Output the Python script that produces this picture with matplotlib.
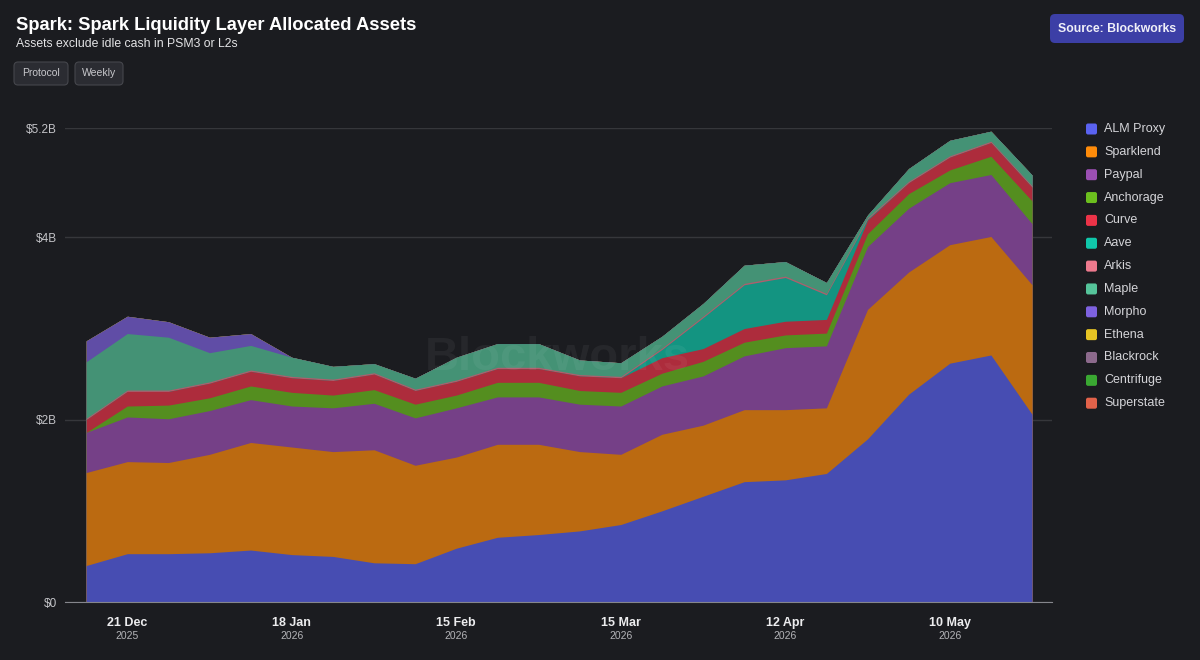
import numpy as np
import pandas as pd
import matplotlib
matplotlib.use("Agg")
import matplotlib.pyplot as plt
import matplotlib.transforms as mtransforms
from matplotlib.patches import FancyBboxPatch
from matplotlib.colors import to_rgb

# weekly data, values in $B
dates = pd.date_range("2025-12-14", periods=24, freq="7D")

alm_proxy = [0.40, 0.53, 0.53, 0.54, 0.57, 0.52, 0.50, 0.43, 0.42, 0.59, 0.71, 0.74,
             0.78, 0.85, 1.00, 1.16, 1.32, 1.34, 1.41, 1.79, 2.28, 2.62, 2.71, 2.06]
sparklend = [1.02, 1.01, 1.00, 1.08, 1.18, 1.18, 1.15, 1.24, 1.08, 1.00, 1.02, 0.99,
             0.87, 0.77, 0.84, 0.78, 0.79, 0.77, 0.72, 1.42, 1.34, 1.30, 1.30, 1.42]
paypal = [0.44, 0.49, 0.48, 0.48, 0.47, 0.45, 0.48, 0.51, 0.52, 0.54, 0.52, 0.52,
          0.52, 0.53, 0.53, 0.54, 0.59, 0.68, 0.68, 0.69, 0.70, 0.68, 0.68, 0.67]
anchorage = [0.00, 0.12, 0.15, 0.14, 0.15, 0.15, 0.14, 0.15, 0.15, 0.14, 0.16, 0.16,
             0.15, 0.15, 0.14, 0.16, 0.15, 0.14, 0.14, 0.14, 0.16, 0.14, 0.20, 0.25]
curve = [0.14, 0.16, 0.15, 0.16, 0.16, 0.16, 0.16, 0.17, 0.15, 0.15, 0.15, 0.15,
         0.16, 0.16, 0.17, 0.14, 0.15, 0.15, 0.15, 0.15, 0.12, 0.14, 0.15, 0.15]
aave = [0.00, 0.00, 0.00, 0.00, 0.00, 0.00, 0.00, 0.00, 0.00, 0.00, 0.00, 0.00,
        0.00, 0.00, 0.09, 0.34, 0.48, 0.48, 0.27, 0.01, 0.00, 0.00, 0.00, 0.00]
arkis = [0.015] * 24
maple = [0.62, 0.62, 0.58, 0.32, 0.27, 0.21, 0.14, 0.10, 0.12, 0.25, 0.26, 0.26,
         0.16, 0.15, 0.13, 0.14, 0.20, 0.16, 0.12, 0.03, 0.14, 0.17, 0.11, 0.12]
morpho = [0.23, 0.19, 0.17, 0.17, 0.13, 0.00, 0.00, 0.00, 0.00, 0.00, 0.00, 0.00,
          0.00, 0.00, 0.00, 0.00, 0.00, 0.00, 0.00, 0.00, 0.00, 0.00, 0.00, 0.00]
ethena = [0.0] * 24
blackrock = [0.0] * 24
centrifuge = [0.0] * 24
superstate = [0.0] * 24

names = ["ALM Proxy", "Sparklend", "Paypal", "Anchorage", "Curve", "Aave", "Arkis",
         "Maple", "Morpho", "Ethena", "Blackrock", "Centrifuge", "Superstate"]
series = [alm_proxy, sparklend, paypal, anchorage, curve, aave, arkis,
          maple, morpho, ethena, blackrock, centrifuge, superstate]
colors = ["#5a62f0", "#ff8c0a", "#9b4fb3", "#6cbf1e", "#ec3348", "#10c7aa", "#ee7a8e",
          "#55c49a", "#7e62e0", "#e6c424", "#8c6a8c", "#3aa832", "#e2624a"]

BG = "#1b1c20"


def blend(c, a=0.70):
    return tuple(a * np.array(to_rgb(c)) + (1 - a) * np.array(to_rgb(BG)))


plt.rcParams["font.family"] = ["Liberation Sans", "DejaVu Sans"]
fig = plt.figure(figsize=(12, 6.6), dpi=100, facecolor=BG)
ax = fig.add_axes([65 / 1200, 58 / 660, 987 / 1200, 474 / 660])
ax.set_facecolor(BG)

# draw cumulative layers from top down so no seams show between them
cum = np.cumsum(np.array(series, dtype=float), axis=0)
for i in range(len(series) - 1, -1, -1):
    ax.fill_between(dates, 0, cum[i], color=blend(colors[i]), linewidth=0, zorder=2)

ax.set_ylim(0, 5.2)
ax.set_xlim(dates[0] - pd.Timedelta(days=3.6), dates[-1] + pd.Timedelta(days=3.4))
ax.set_yticks([0, 2, 4, 5.2])
ax.set_yticklabels(["$0", "$2B", "$4B", "$5.2B"])
ax.yaxis.grid(True, color="white", alpha=0.12, lw=1, zorder=3)
ax.tick_params(axis="y", length=0, pad=6, labelsize=8.5, labelcolor="#c4c4c8")
for s in ["top", "right", "left"]:
    ax.spines[s].set_visible(False)
ax.spines["bottom"].set_color("#85868c")
ax.spines["bottom"].set_zorder(4)

tick_dates = pd.to_datetime(["2025-12-21", "2026-01-18", "2026-02-15",
                             "2026-03-15", "2026-04-12", "2026-05-10"])
ax.set_xticks(tick_dates)
ax.set_xticklabels([d.strftime("%-d %b") for d in tick_dates], fontweight="bold")
ax.tick_params(axis="x", length=0, pad=11, labelsize=9, labelcolor="#ececee")
trans = mtransforms.blended_transform_factory(ax.transData, ax.transAxes)
for d in tick_dates:
    ax.text(d, -34 / 474, str(d.year), transform=trans, ha="center", va="center",
            fontsize=7.5, color="#b4b4b8")

# overlay in pixel coordinates for header, legend and watermark
ov = fig.add_axes([0, 0, 1, 1], facecolor="none")
ov.set_xlim(0, 1200)
ov.set_ylim(660, 0)
ov.axis("off")

ov.text(557, 358, "Blockworks", fontsize=34, fontweight="bold", color="white",
        alpha=0.05, ha="center", va="center")

ov.text(16, 25, "Spark: Spark Liquidity Layer Allocated Assets", fontsize=13.2,
        fontweight="bold", color="white", va="center")
ov.text(16, 44, "Assets exclude idle cash in PSM3 or L2s", fontsize=8.8,
        color="#e4e4e6", va="center")

for label, x0, w in [("Protocol", 14, 54), ("Weekly", 75, 48)]:
    ov.add_patch(FancyBboxPatch((x0, 62), w, 23, boxstyle="round,pad=0,rounding_size=4",
                                facecolor="#2b2c32", edgecolor="#45464c", lw=0.8))
    ov.text(x0 + w / 2, 73.5, label, fontsize=7.5, color="#c8c8cc", ha="center", va="center")

ov.add_patch(FancyBboxPatch((1050, 14), 134, 29, boxstyle="round,pad=0,rounding_size=5",
                            facecolor="#3c3fa6", edgecolor="none"))
ov.text(1117, 28.5, "Source: Blockworks", fontsize=8.8, fontweight="bold", color="#f0f0f8",
        ha="center", va="center")

for i, (name, c) in enumerate(zip(names, colors)):
    y = 129 + i * 22.85
    ov.add_patch(FancyBboxPatch((1086, y - 5.5), 11, 11, boxstyle="round,pad=0,rounding_size=2",
                                facecolor=c, edgecolor="none"))
    ov.text(1104, y, name, fontsize=9, color="#d4d4d8", va="center")

fig.savefig("out.png", dpi=100, facecolor=BG)
